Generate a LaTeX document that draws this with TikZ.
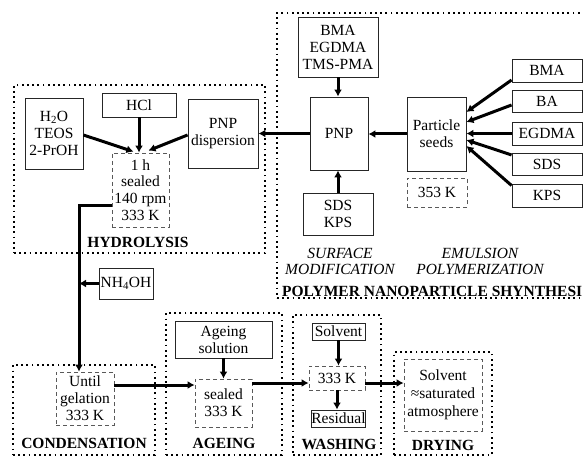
\documentclass[tikz,border=0pt]{standalone}
\usepackage{fontspec}
\setmainfont{Liberation Serif}
\usetikzlibrary{arrows.meta,calc}
\begin{document}
\begin{tikzpicture}[x=1pt,y=-1pt,
  every node/.style={font=\fontsize{15.5}{17}\selectfont, align=center, inner sep=0pt},
  sbox/.style={draw=black!85, line width=0.9pt},
  dbox/.style={draw=black!65, line width=0.8pt, dash pattern=on 4pt off 3pt},
  grp/.style={draw=black, line width=1.8pt, dash pattern=on 1.8pt off 3.4pt},
  flow/.style={line width=3pt, -{Latex[length=7pt,width=8pt]}},
  glabel/.style={font=\fontsize{15.5}{17}\selectfont\bfseries},
  ilabel/.style={font=\fontsize{15.5}{16}\selectfont\itshape},
]
\useasboundingbox (0,0) rectangle (583,457);
\fill[white] (0,0) rectangle (583,457);

% group frames
\node[grp, minimum width=251pt, minimum height=168pt] (ghyd) at (139.5,169) {};
\node[grp, minimum width=313pt, minimum height=285pt] (gpol) at (433.5,155.5) {};
\node[grp, minimum width=142pt, minimum height=90pt] (gcon) at (84,410) {};
\node[grp, minimum width=116pt, minimum height=142pt] (gage) at (224,384) {};
\node[grp, minimum width=88pt, minimum height=140pt] (gwas) at (337,385) {};
\node[grp, minimum width=98pt, minimum height=103pt] (gdry) at (443,403.5) {};

% polymer nanoparticle synthesis
\node[sbox, minimum width=80pt, minimum height=60pt] (mono) at (338,47) {BMA\\EGDMA\\TMS-PMA};
\node[sbox, minimum width=58pt, minimum height=73pt] (pnp) at (339,133.5) {PNP};
\node[sbox, minimum width=59pt, minimum height=74pt] (seeds) at (436.5,134) {Particle\\seeds};
\node[dbox, minimum width=60pt, minimum height=29pt] (t353) at (437,192.5) {353 K};
\node[sbox, minimum width=70pt, minimum height=23pt] (bma) at (547,70.5) {BMA};
\node[sbox, minimum width=70pt, minimum height=22pt] (ba) at (547,101) {BA};
\node[sbox, minimum width=70pt, minimum height=23pt] (egdma) at (547,133.5) {EGDMA};
\node[sbox, minimum width=70pt, minimum height=22pt] (sds) at (547,164) {SDS};
\node[sbox, minimum width=70pt, minimum height=23pt] (kps) at (547,195.5) {KPS};
\node[sbox, minimum width=70pt, minimum height=42pt] (sdskps) at (338,214) {SDS\\KPS};
\node[ilabel] (lsurf) at (340,261) {SURFACE\\MODIFICATION};
\node[ilabel] (lemul) at (480,261) {EMULSION\\POLYMERIZATION};
\node[glabel, anchor=west] (lpol) at (282,291) {POLYMER NANOPARTICLE SHYNTHESI};

% hydrolysis
\node[sbox, minimum width=58pt, minimum height=71pt] (h2o) at (54,133.5) {H\textsubscript{2}O\\TEOS\\2-PrOH};
\node[sbox, minimum width=74pt, minimum height=24pt] (hcl) at (139,105) {HCl};
\node[sbox, minimum width=70pt, minimum height=69pt] (pnpd) at (223,133.5) {PNP\\dispersion};
\node[dbox, minimum width=57pt, minimum height=74pt, font=\fontsize{15.5}{16.7}\selectfont] (hyd) at (140.5,190) {1 h\\sealed\\140 rpm\\333 K};
\node[glabel] (lhyd) at (138,242) {HYDROLYSIS};

% condensation
\node[sbox, minimum width=54pt, minimum height=31pt] (nh4oh) at (126,283.5) {NH\textsubscript{4}OH};
\node[dbox, minimum width=58pt, minimum height=53pt] (until) at (85,398.5) {Until\\gelation\\333 K};
\node[glabel] (lcon) at (84,443) {CONDENSATION};

% ageing
\node[sbox, minimum width=97pt, minimum height=37pt] (agesol) at (223.5,339.5) {Ageing\\solution};
\node[dbox, minimum width=57pt, minimum height=48pt] (sealed) at (223.5,403) {sealed\\333 K};
\node[glabel] (lage) at (224,443) {AGEING};

% washing
\node[sbox, minimum width=53pt, minimum height=17pt] (solv) at (338.5,331.5) {Solvent};
\node[dbox, minimum width=56pt, minimum height=24pt] (wash) at (337,378) {333 K};
\node[sbox, minimum width=53pt, minimum height=17pt] (resid) at (338.5,418.5) {Residual};
\node[glabel] (lwas) at (339,444) {WASHING};

% drying
\node[dbox, minimum width=78pt, minimum height=72pt, font=\fontsize{15.5}{18}\selectfont] (dry) at (443,395) {Solvent\\≈saturated\\atmosphere};
\node[glabel] (ldry) at (443,445) {DRYING};

% connectors: polymer synthesis
\draw[flow] (mono.south) -- (mono.south |- pnp.north);
\draw[flow] (sdskps.north) -- (sdskps.north |- pnp.south);
\draw[flow] (seeds.west) -- (seeds.west -| pnp.east);
\draw[flow] (pnp.west) -- (pnp.west -| pnpd.east);
\draw[flow] ($(bma.west)+(0,9.5)$) -- ($(seeds.east)+(0,-22)$);
\draw[flow] ($(ba.west)+(0,4)$) -- ($(seeds.east)+(0,-12)$);
\draw[flow] (egdma.west) -- (egdma.west -| seeds.east);
\draw[flow] ($(sds.west)+(0,-9)$) -- ($(seeds.east)+(0,6)$);
\draw[flow] ($(kps.west)+(0,-10)$) -- ($(seeds.east)+(0,12)$);

% connectors: hydrolysis
\draw[flow] ($(h2o.east)+(0,1.5)$) -- ($(hyd.north)+(-7,-1)$);
\draw[flow] (hcl.south) -- (hcl.south |- hyd.north);
\draw[flow] ($(pnpd.west)+(0,1.5)$) -- ($(hyd.north)+(8,-2)$);

% hydrolysis -> condensation
\coordinate (c1) at (79,205);
\draw[flow] ($(hyd.west)+(0,15)$) -- (c1) -- (c1 |- until.north);
\draw[flow] (nh4oh.west) -- (nh4oh.west -| c1);

% chain
\coordinate (r1) at ($(until.east)+(0,-13.5)$);
\draw[flow] (r1) -- (r1 -| sealed.west);
\draw[flow] (agesol.south) -- (agesol.south |- sealed.north);
\coordinate (r2) at ($(sealed.east)+(0,-20)$);
\draw[flow] (r2) -- (r2 -| wash.west);
\draw[flow] (solv.south) -- (solv.south |- wash.north);
\draw[flow] (wash.south) -- (wash.south |- resid.north);
\coordinate (r3) at ($(wash.east)+(0,5)$);
\draw[flow] (r3) -- (r3 -| dry.west);
\end{tikzpicture}
\end{document}
